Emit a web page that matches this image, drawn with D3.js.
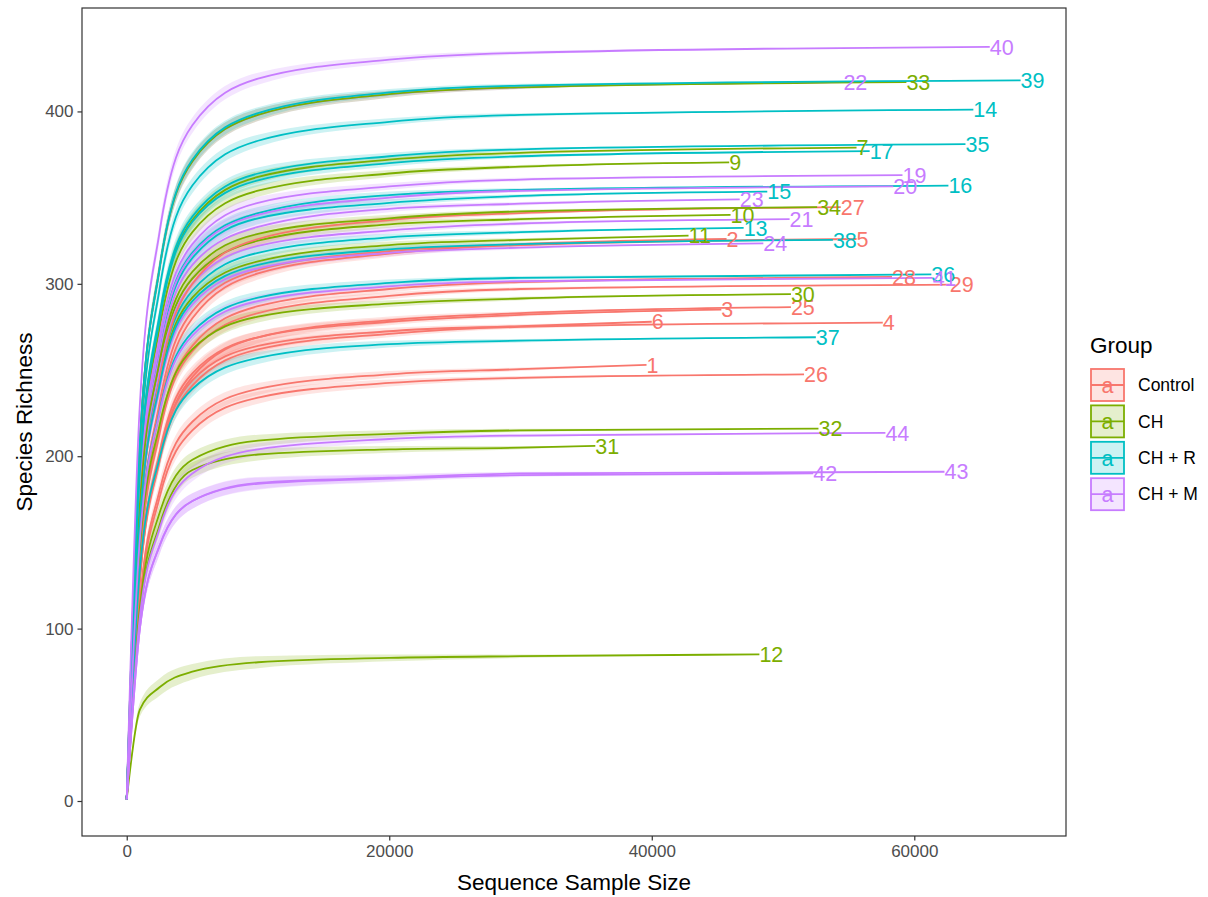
<!DOCTYPE html>
<html>
<head>
<meta charset="utf-8">
<script src="https://cdn.jsdelivr.net/npm/d3@7"></script>
<style>
  body { margin: 0; background: #fff; }
  svg { font-family: "Liberation Sans", Arial, sans-serif; }
</style>
</head>
<body>
<div id="chart"></div>
<script>
const groups = ['Control', 'CH', 'CH + R', 'CH + M']
const groupColors = ['#F8766D', '#7CAE00', '#00BFC4', '#C77CFF']

// depths where richness was read, the last value of each row is at the sample's own depth
const stepDepths = [0, 1000, 2500, 5000, 10000, 20000, 30000]
const bandHalf = [0, 4, 5, 4.5, 3.5, 2, 1, 0]

const sampleIds = [1, 2, 3, 4, 5, 6, 7, 9, 10, 11, 12, 13, 14, 15, 16, 17,
  19, 20, 21, 22, 23, 24, 25, 26, 27, 28, 29, 30, 31, 32, 33, 34,
  35, 36, 37, 38, 39, 40, 41, 42, 43, 44]

const sampleGroup = ['Control', 'Control', 'Control', 'Control', 'Control', 'Control',
  'CH', 'CH', 'CH', 'CH', 'CH',
  'CH + R', 'CH + R', 'CH + R', 'CH + R', 'CH + R',
  'CH + M', 'CH + M', 'CH + M', 'CH + M', 'CH + M', 'CH + M',
  'Control', 'Control', 'Control', 'Control', 'Control',
  'CH', 'CH', 'CH', 'CH', 'CH',
  'CH + R', 'CH + R', 'CH + R', 'CH + R', 'CH + R',
  'CH + M', 'CH + M', 'CH + M', 'CH + M', 'CH + M']

const sampleDepth = [39600, 45700, 45300, 57600, 55600, 40000,
  55600, 45900, 46000, 42800, 48200,
  47000, 64500, 48800, 62600, 56600,
  59100, 58400, 50500, 54600, 46700, 48500,
  50600, 51600, 54400, 58300, 62700,
  50600, 35700, 52700, 59400, 52600,
  63900, 61300, 52500, 53800, 68100,
  65750, 61400, 52300, 62300, 57800]

const richness = [
  [1, 116, 180, 220, 239, 247.5, 250.5, 253],
  [1, 150, 231, 284, 308, 319, 323, 326],
  [1, 131, 202, 248, 269, 278, 282, 285],
  [1, 128, 197, 241, 262, 271, 275, 277.5],
  [1, 146, 226, 280, 306, 317.5, 322.5, 326],
  [1, 132, 200, 244, 264, 272.5, 275.5, 278],
  [1, 190, 280, 337, 362, 372, 376, 379],
  [1, 185, 274, 330, 354, 364, 368, 370.5],
  [1, 170, 252, 303, 325, 334.5, 337.5, 340],
  [1, 164, 243, 292, 313, 322.5, 325.5, 328],
  [1, 53, 66, 75, 80.5, 83, 84, 85],
  [1, 166, 246, 296, 318, 327, 330, 332.5],
  [1, 200, 297, 357, 383, 394, 398, 401],
  [1, 177, 262, 315, 338, 347, 351, 353.5],
  [1, 178, 264, 318, 341, 351.5, 354.5, 357],
  [1, 188, 279, 336, 360, 370, 374, 377],
  [1, 182, 269, 323, 347, 356.5, 360.5, 363],
  [1, 178, 264, 317, 340, 350, 354, 356.5],
  [1, 169, 250, 300, 322, 331, 335, 337.5],
  [1, 208, 309, 371, 398, 410, 414, 417],
  [1, 175, 258, 311, 333, 343.5, 346.5, 349],
  [1, 162, 239, 288, 309, 318, 321, 323.5],
  [1, 128, 199, 246, 269, 279, 283, 286.5],
  [1, 114, 176, 215, 234, 242.5, 245.5, 247.5],
  [1, 158, 245, 300, 326, 337, 341, 344.5],
  [1, 140, 216, 264, 287, 297, 301, 304],
  [1, 138, 213, 261, 283, 293, 297, 299.5],
  [1, 147, 218, 262, 281, 288.5, 291.5, 294],
  [1, 108, 160, 192, 201, 204, 205, 206],
  [1, 112, 167, 198, 209, 213, 215, 216],
  [1, 208, 309, 371, 398, 410, 414, 417],
  [1, 172, 255, 307, 329, 338, 342, 344.5],
  [1, 190, 282, 339, 364, 374, 378, 381],
  [1, 153, 226, 272, 292, 300.5, 303.5, 305.5],
  [1, 134, 199, 239, 257, 265, 267, 269],
  [1, 163, 241, 290, 311, 320, 323, 325.5],
  [1, 209, 309, 372, 399, 411, 415, 418],
  [1, 230, 330, 392, 419, 430, 434, 437.5],
  [1, 152, 225, 270, 290, 298.5, 301.5, 303.5],
  [1, 100, 148, 174, 184, 187, 189, 190],
  [1, 100, 148, 174, 184.5, 187.5, 190, 191],
  [1, 107, 158, 190, 204, 210, 212, 213.5]
]

const xTicks = [0, 20000, 40000, 60000]
const yTicks = [0, 100, 200, 300, 400]

const panel = { left: 82, top: 8, right: 1066, bottom: 836 }

const svg = d3
  .select('#chart')
  .append('svg')
  .attr('width', 1208)
  .attr('height', 897)

const xPositionScale = d3
  .scaleLinear()
  .domain([-3408, 71558])
  .range([panel.left, panel.right])

const yPositionScale = d3
  .scaleLinear()
  .domain([-20.3, 460])
  .range([panel.bottom, panel.top])

const colorScale = d3.scaleOrdinal().domain(groups).range(groupColors)

// one row of points per sample
const samples = sampleIds.map(function(id, i) {
  const depths = stepDepths.concat([sampleDepth[i]])
  return {
    id: id,
    group: sampleGroup[i],
    points: depths.map(function(d, j) {
      return { x: d, y: richness[i][j], half: bandHalf[j] }
    })
  }
})

svg
  .append('clipPath')
  .attr('id', 'panel-clip')
  .append('rect')
  .attr('x', panel.left)
  .attr('y', panel.top)
  .attr('width', panel.right - panel.left)
  .attr('height', panel.bottom - panel.top)

const plot = svg.append('g').attr('clip-path', 'url(#panel-clip)')

const area = d3
  .area()
  .x(d => xPositionScale(d.x))
  .y0(d => yPositionScale(d.y - d.half))
  .y1(d => yPositionScale(d.y + d.half))
  .curve(d3.curveMonotoneX)

const line = d3
  .line()
  .x(d => xPositionScale(d.x))
  .y(d => yPositionScale(d.y))
  .curve(d3.curveMonotoneX)

plot
  .selectAll('.band')
  .data(samples)
  .enter()
  .append('path')
  .attr('class', 'band')
  .attr('d', d => area(d.points))
  .attr('fill', d => colorScale(d.group))
  .attr('fill-opacity', 0.2)

plot
  .selectAll('.curve')
  .data(samples)
  .enter()
  .append('path')
  .attr('class', 'curve')
  .attr('d', d => line(d.points))
  .attr('fill', 'none')
  .attr('stroke', d => colorScale(d.group))
  .attr('stroke-width', 1.8)

plot
  .selectAll('.end-label')
  .data(samples)
  .enter()
  .append('text')
  .attr('class', 'end-label')
  .attr('x', d => xPositionScale(d.points[d.points.length - 1].x))
  .attr('y', d => yPositionScale(d.points[d.points.length - 1].y))
  .attr('dy', '0.36em')
  .attr('font-size', 21.5)
  .attr('fill', d => colorScale(d.group))
  .text(d => d.id)

// panel border
svg
  .append('rect')
  .attr('x', panel.left)
  .attr('y', panel.top)
  .attr('width', panel.right - panel.left)
  .attr('height', panel.bottom - panel.top)
  .attr('fill', 'none')
  .attr('stroke', '#333333')
  .attr('stroke-width', 1.2)

const x_axis = d3.axisBottom(xPositionScale)
  .tickValues(xTicks)
  .tickFormat(d3.format('d'))
  .tickSize(4.5)
  .tickPadding(4)
svg
  .append('g')
  .attr('class', 'axis x-axis')
  .attr('transform', 'translate(0,' + panel.bottom + ')')
  .call(x_axis)

const y_axis = d3.axisLeft(yPositionScale)
  .tickValues(yTicks)
  .tickFormat(d3.format('d'))
  .tickSize(4.5)
  .tickPadding(4)
svg
  .append('g')
  .attr('class', 'axis y-axis')
  .attr('transform', 'translate(' + panel.left + ',0)')
  .call(y_axis)

svg.selectAll('.axis path').attr('stroke', 'none')
svg.selectAll('.axis line').attr('stroke', '#333333').attr('stroke-width', 1.2)
svg.selectAll('.axis text')
  .attr('font-size', 17)
  .attr('fill', '#4D4D4D')
  .attr('font-family', '"Liberation Sans", Arial, sans-serif')

svg
  .append('text')
  .attr('x', (panel.left + panel.right) / 2)
  .attr('y', 890)
  .attr('text-anchor', 'middle')
  .attr('font-size', 22.5)
  .text('Sequence Sample Size')

svg
  .append('text')
  .attr('transform', 'translate(32,' + (panel.top + panel.bottom) / 2 + ') rotate(-90)')
  .attr('text-anchor', 'middle')
  .attr('font-size', 22.5)
  .text('Species Richness')

// legend
const legend = svg.append('g').attr('transform', 'translate(1090,368)')

legend
  .append('text')
  .attr('x', 0)
  .attr('y', -15)
  .attr('font-size', 22.5)
  .text('Group')

const keys = legend
  .selectAll('.key')
  .data(groups)
  .enter()
  .append('g')
  .attr('class', 'key')
  .attr('transform', (d, i) => 'translate(0,' + i * 36.4 + ')')

keys
  .append('rect')
  .attr('x', 1)
  .attr('y', 1)
  .attr('width', 33)
  .attr('height', 32)
  .attr('fill', d => colorScale(d))
  .attr('fill-opacity', 0.2)
  .attr('stroke', d => colorScale(d))
  .attr('stroke-width', 1.8)

keys
  .append('line')
  .attr('x1', 1)
  .attr('x2', 34)
  .attr('y1', 17)
  .attr('y2', 17)
  .attr('stroke', d => colorScale(d))
  .attr('stroke-width', 1.8)

keys
  .append('text')
  .attr('x', 17.5)
  .attr('y', 17)
  .attr('dy', '0.36em')
  .attr('text-anchor', 'middle')
  .attr('font-size', 21.5)
  .attr('fill', d => colorScale(d))
  .text('a')

keys
  .append('text')
  .attr('x', 48)
  .attr('y', 17)
  .attr('dy', '0.36em')
  .attr('font-size', 17.5)
  .text(d => d)
</script>
</body>
</html>
